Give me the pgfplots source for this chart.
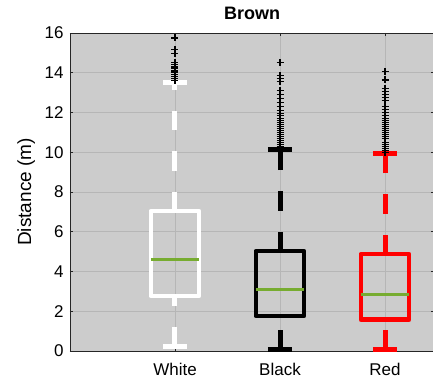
\documentclass[border=0pt]{standalone}
\usepackage{fontspec}
\setmainfont{Liberation Sans}
\usepackage{pgfplots}
\pgfplotsset{compat=1.18}
\definecolor{bg}{RGB}{204,204,204}
\definecolor{gridc}{RGB}{182,182,182}
\definecolor{axc}{RGB}{38,38,38}
\definecolor{med}{RGB}{119,172,48}
\begin{document}
\begin{tikzpicture}[x=1pt,y=1pt]
\begin{axis}[
  at={(0,0)}, anchor=south west,
  scale only axis, width=364pt, height=318pt,
  xmin=0, xmax=3.4667, ymin=0, ymax=16,
  axis background/.style={fill=bg},
  axis line style={axc, line width=0.8pt},
  xtick={1,2,3}, xticklabels={White,Black,Red},
  ytick={0,2,...,16},
  grid=major, major grid style={gridc, line width=0.8pt},
  tick style={axc, line width=0.6pt},
  tick align=inside, major tick length=3pt,
  ticklabel style={font=\fontsize{17}{20}\selectfont},
  /pgf/number format/assume math mode=true,
  xticklabel style={yshift=-8.5pt},
  yticklabel style={xshift=-3pt},
  ylabel={Distance (m)},
  ylabel style={font=\fontsize{19}{22}\selectfont, at={(axis description cs:-0.12,0.5)}, anchor=center},
  title={Brown},
  title style={font=\fontsize{18}{21}\selectfont\bfseries, at={(axis description cs:0.5,1)}, anchor=base, yshift=7pt},
]
% whiskers (dashed)
\addplot[white, line width=5pt, dash pattern=on 19.5pt off 21pt] coordinates {(1,0.22) (1,2.77)};
\addplot[white, line width=5pt, dash pattern=on 19.5pt off 21pt] coordinates {(1,7.04) (1,13.5)};
\addplot[black, line width=5pt, dash pattern=on 19.5pt off 21pt] coordinates {(2,0.06) (2,1.76)};
\addplot[black, line width=5pt, dash pattern=on 19.5pt off 21pt] coordinates {(2,5.03) (2,10.16)};
\addplot[red, line width=5pt, dash pattern=on 19.5pt off 21pt] coordinates {(3,0.08) (3,1.58)};
\addplot[red, line width=5pt, dash pattern=on 19.5pt off 21pt] coordinates {(3,4.88) (3,9.96)};
% caps
\addplot[white, line width=5pt] coordinates {(0.885,0.22) (1.115,0.22)};
\addplot[white, line width=5pt] coordinates {(0.885,13.5) (1.115,13.5)};
\addplot[black, line width=5pt] coordinates {(1.885,0.06) (2.115,0.06)};
\addplot[black, line width=5pt] coordinates {(1.885,10.16) (2.115,10.16)};
\addplot[red, line width=5pt] coordinates {(2.885,0.08) (3.115,0.08)};
\addplot[red, line width=5pt] coordinates {(2.885,9.96) (3.115,9.96)};
% boxes
\addplot[white, line width=4.5pt, line join=round, line cap=round] coordinates {(0.77,2.77) (1.23,2.77) (1.23,7.04) (0.77,7.04)} -- cycle;
\addplot[black, line width=4.5pt, line join=round, line cap=round] coordinates {(1.77,1.76) (2.23,1.76) (2.23,5.03) (1.77,5.03)} -- cycle;
\addplot[red, line width=4.5pt, line join=round, line cap=round] coordinates {(2.77,1.58) (3.23,1.58) (3.23,4.88) (2.77,4.88)} -- cycle;
% medians
\addplot[med, line width=3pt] coordinates {(0.77,4.58) (1.23,4.58)};
\addplot[med, line width=3pt] coordinates {(1.77,3.07) (2.23,3.07)};
\addplot[med, line width=3pt] coordinates {(2.77,2.82) (3.23,2.82)};
% outliers
\addplot[only marks, mark=+, mark size=3.5pt, black, mark options={line width=1.2pt}] coordinates {
(1,15.75) (1,15.15) (1,14.95) (1,14.5) (1,14.4) (1,14.3) (1,14.25) (1,14.2) (1,14.1) (1,14.05) (1,14.0) (1,13.9) (1,13.8) (1,13.7) (1,13.6)
};
\addplot[only marks, mark=+, mark size=3.5pt, black, mark options={line width=1.2pt}] coordinates {
(2,14.5) (2,13.85) (2,13.7) (2,13.55) (2,13.1) (2,12.9) (2,12.7) (2,12.5) (2,12.3) (2,12.1) (2,11.95) (2,11.85) (2,11.7) (2,11.6) (2,11.5) (2,11.4) (2,11.3) (2,11.2) (2,11.1) (2,11.0) (2,10.9) (2,10.8) (2,10.7) (2,10.6) (2,10.5) (2,10.4) (2,10.3) (2,10.2)
};
\addplot[only marks, mark=+, mark size=3.5pt, black, mark options={line width=1.2pt}] coordinates {
(3,14.05) (3,13.64) (3,13.2) (3,13.05) (3,12.9) (3,12.75) (3,12.6) (3,12.3) (3,12.15) (3,12.0) (3,11.85) (3,11.7) (3,11.6) (3,11.5) (3,11.4) (3,11.3) (3,11.2) (3,11.1) (3,11.0) (3,10.9) (3,10.8) (3,10.7) (3,10.5) (3,10.4) (3,10.3) (3,10.2) (3,10.1) (3,10.0)
};
\end{axis}
\pgfresetboundingbox
\path[use as bounding box] (-70,-32) rectangle (363,351);
\end{tikzpicture}
\end{document}
